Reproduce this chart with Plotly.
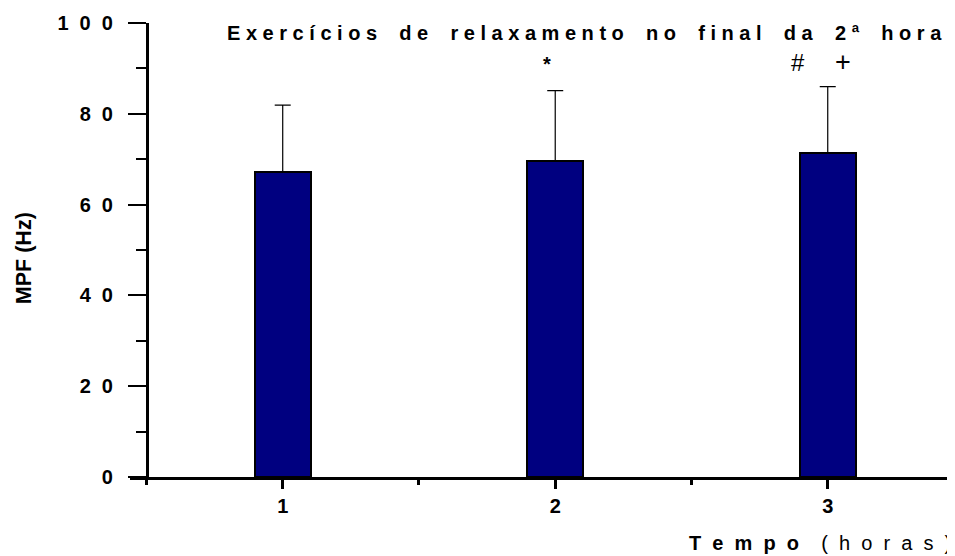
import plotly.graph_objects as go

# data
categories = [1, 2, 3]
mpf_mean = [67.2, 69.5, 71.4]
mpf_sd = [14.7, 15.6, 14.6]
y_tickvals = [0, 20, 40, 60, 80, 100]
y_ticklabels = ["0", "20", "40", "60", "80", "100"]
x_tickvals = [1, 2, 3]
x_ticktext = ["1", "2", "3"]
markers_text = ["<b>*</b>", "#", "+"]
markers_x = [1.969, 2.891, 3.056]
markers_y = [91.0, 91.4, 91.4]

FONT = "Liberation Sans, Arial, sans-serif"
NB = "\u00a0"

def spaced(s, g=2, w=3):
    words = s.split(" ")
    return (NB * w).join((NB * g).join(wd) for wd in words)

y_ticktext = [(NB * 2).join(t) for t in y_ticklabels]

fig = go.Figure()
fig.add_trace(go.Bar(
    x=categories, y=mpf_mean, width=0.204,
    marker=dict(color="#000080", line=dict(color="black", width=2)),
    error_y=dict(type="data", symmetric=False, array=mpf_sd,
                 arrayminus=[0, 0, 0], color="black", thickness=1.2, width=8),
    showlegend=False,
))

for t, xv, yv, sz in zip(markers_text, markers_x, markers_y, [20, 24, 27]):
    fig.add_annotation(x=xv, y=yv, xref="x", yref="y", text=t, showarrow=False,
                       font=dict(family=FONT, size=sz, color="black"))

fig.add_annotation(x=0.115, y=0.978, xref="paper", yref="paper", xanchor="left",
                   yanchor="middle", showarrow=False,
                   text="<b>" + spaced("Exercícios de relaxamento no final da 2ª hora", 1, 4) + "</b>",
                   font=dict(family=FONT, size=20, color="black"))

fig.add_annotation(x=0.9976, y=-0.1454, xref="paper", yref="paper", xanchor="right",
                   yanchor="middle", showarrow=False,
                   text="<b>" + spaced("Tempo", 2, 2) + "</b>" + NB * 4 + (NB * 2).join("(horas)"),
                   font=dict(family=FONT, size=20, color="black"))

fig.add_annotation(x=-0.1285, y=0.482, xref="paper", yref="paper", xanchor="center",
                   yanchor="middle", showarrow=False, textangle=-90,
                   text="<b>MPF (Hz)</b>",
                   font=dict(family=FONT, size=21.5, color="black"))

fig.update_layout(
    width=947, height=548, autosize=False,
    margin=dict(l=122, r=0, t=15, b=79),
    plot_bgcolor="white", paper_bgcolor="white",
    font=dict(family=FONT, color="black"),
    bargap=0,
    xaxis=dict(range=[0.4396, 3.467], showgrid=False, zeroline=False,
               showline=True, linecolor="black", linewidth=3,
               tickvals=x_tickvals, ticktext=x_ticktext, ticks="outside",
               ticklen=9, tickwidth=3, tickcolor="black",
               tickfont=dict(family=FONT, size=20, weight="bold"),
               minor=dict(tickvals=[0.5, 1.5, 2.5], ticks="outside", ticklen=5,
                          tickwidth=3, tickcolor="black")),
    yaxis=dict(range=[0, 100], showgrid=False, zeroline=False,
               anchor="free", position=0.0206,
               showline=True, linecolor="black", linewidth=3,
               tickvals=y_tickvals, ticktext=y_ticktext, ticks="outside",
               ticklen=18, tickwidth=2, tickcolor="black", ticklabelstandoff=11,
               tickfont=dict(family=FONT, size=20, weight="bold"),
               minor=dict(tickvals=[10, 30, 50, 70, 90], ticks="outside", ticklen=10,
                          tickwidth=2, tickcolor="black")),
)

fig.write_html("out.html")
